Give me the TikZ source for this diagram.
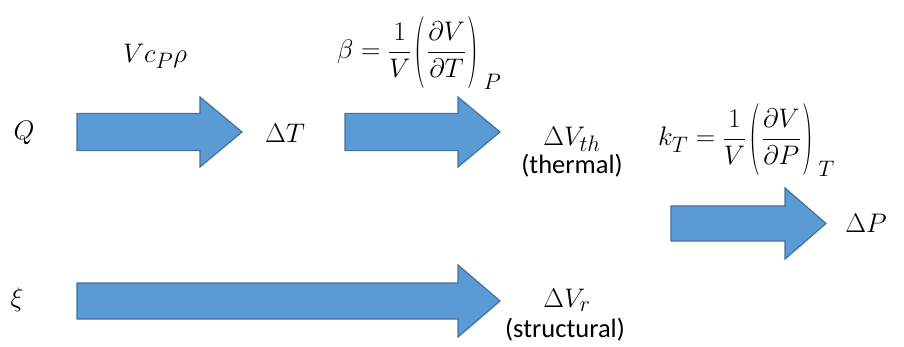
\documentclass[tikz,border=0pt]{standalone}
\usepackage{graphicx}
\usepackage{amsmath}
\usepackage{fontspec}
\newfontfamily\calib{Carlito}
\tikzset{
  blockarrow/.style={fill=arrowblue, draw=arrowedge, line width=1.2pt, line join=miter},
  lbl/.style={inner sep=0pt, font=\fontsize{24.88}{30}\selectfont},
  wordlbl/.style={inner sep=0pt, font=\calib\fontsize{26.5}{31}\selectfont},
}
\definecolor{arrowblue}{HTML}{5B9BD5}
\definecolor{arrowedge}{HTML}{41719C}
\newcommand\blockarr[6]{% x0, xbase, xtip, yc, shaft half, head half
  \draw[blockarrow] (#1,#4-#5) -- (#2,#4-#5) -- (#2,#4-#6) -- (#3,#4) -- (#2,#4+#6) -- (#2,#4+#5) -- (#1,#4+#5) -- cycle;}
\newcommand\mbig[1]{\scalebox{1.08}{#1}}
\newcommand\lpn{\mathopen{\raisebox{-0.42em}{\scalebox{1.15}[2.68]{$($}}}}
\newcommand\rpn{\mathclose{\raisebox{-0.42em}{\scalebox{1.15}[2.68]{$)$}}}}
\newcommand\pderiv[3]{\mkern2mu\lpn\mkern1mu\frac{#1}{#2}\mkern1mu\rpn_{\mkern4mu #3}}
\begin{document}
\begin{tikzpicture}[x=1pt,y=-1pt]
\useasboundingbox (0,0) rectangle (904,347);
% arrows
\blockarr{77}{200}{242}{132}{18.5}{35}
\blockarr{345}{458}{500}{132}{18.5}{35}
\blockarr{671}{785}{826}{223.5}{17.5}{35.5}
\blockarr{77}{458}{500}{301}{18}{36}
% labels
\node[lbl] (Q) at (24,133) {\mbig{$Q$}};
\node[lbl] (dT) at (285,133) {\mbig{$\Delta T$}};
\node[lbl] (cp) at (155,56) {\mbig{$Vc_P\rho$}};
\node[lbl, anchor=base west] (beta) at (337,59) {\mbig{$\displaystyle\beta=\frac{1}{V}\pderiv{\partial V}{\partial T}{P}$}};
\node[lbl] (dVth) at (572,139) {\mbig{$\Delta V_{th}$}};
\node[wordlbl] (therm) at (572,166) {(thermal)};
\node[lbl, anchor=base west] (kT) at (658,146) {\mbig{$\displaystyle k_T=\frac{1}{V}\pderiv{\partial V}{\partial P}{T}$}};
\node[lbl] (dP) at (866,223) {\mbig{$\Delta P$}};
\node[lbl] (xi) at (17,300) {\mbig{$\xi$}};
\node[lbl] (dVr) at (567,300) {\mbig{$\Delta V_r$}};
\node[wordlbl] (struct) at (565,330) {(structural)};
\end{tikzpicture}
\end{document}
